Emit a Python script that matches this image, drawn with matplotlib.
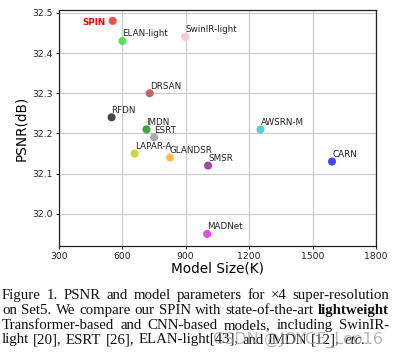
import matplotlib.pyplot as plt

models = ["SPIN", "ELAN-light", "SwinIR-light", "DRSAN", "RFDN", "IMDN", "ESRT",
          "LAPAR-A", "GLANDSR", "SMSR", "MADNet", "AWSRN-M", "CARN"]
params = [555, 601, 897, 730, 550, 715, 751, 659, 826, 1006, 1002, 1254, 1592]
psnr = [32.48, 32.43, 32.44, 32.30, 32.24, 32.21, 32.19, 32.15, 32.14, 32.12, 31.95, 32.21, 32.13]
colors = ["#ff4a4a", "#55e655", "#ffc8d2", "#c06464", "#484848", "#3caa3c", "#aaaaaa",
          "#d4d43c", "#ffbb50", "#a846a8", "#dc50dc", "#50d2d2", "#4646fa"]

xticks = [300, 600, 900, 1200, 1500, 1800]
yticks = [32.0, 32.1, 32.2, 32.3, 32.4, 32.5]

caption = [
    [("Figure", "n"), ("1.", "n"), ("PSNR", "n"), ("and", "n"), ("model", "n"), ("parameters", "n"),
     ("for", "n"), ("\u00d74", "n"), ("super-resolution", "n")],
    [("on", "n"), ("Set5.", "n"), ("We", "n"), ("compare", "n"), ("our", "n"), ("SPIN", "n"),
     ("with", "n"), ("state-of-the-art", "n"), ("lightweight", "b")],
    [("Transformer-based", "n"), ("and", "n"), ("CNN-based", "n"), ("models,", "n"),
     ("including", "n"), ("SwinIR-", "n")],
    [("light", "n"), ("[20],", "n"), ("ESRT", "n"), ("[26],", "n"), ("ELAN-light[43],", "n"),
     ("and", "n"), ("IMDN", "n"), ("[12],", "n"), ("etc.", "i")],
]

W, H = 399, 358
fig = plt.figure(figsize=(W / 100, H / 100), dpi=100)
ax = fig.add_axes([58.7 / W, 1 - 246 / H, (376 - 58.7) / W, (246 - 10) / H])

ax.scatter(params, psnr, c=colors, s=34, edgecolors="none", zorder=3)
for name, x, y in zip(models, params, psnr):
    if name == "SPIN":
        ax.annotate(name, (x, y), xytext=(-5, -1), textcoords="offset points",
                    ha="right", va="center", fontsize=6.3, color="red", fontweight="bold")
    else:
        ax.annotate(name, (x, y), xytext=(0, 3.3), textcoords="offset points",
                    ha="left", va="baseline", fontsize=6.3, color="#222222")

ax.set_xlim(300, 1800)
ax.set_ylim(31.92, 32.507)
ax.set_xticks(xticks)
ax.set_yticks(yticks)
ax.tick_params(labelsize=6.7, length=2.5, width=0.8, pad=2, colors="#222222")
ax.grid(True, color="#cccccc", linewidth=0.9)
ax.set_axisbelow(True)
for s in ax.spines.values():
    s.set_color("#222222")
    s.set_linewidth(0.9)
ax.set_xlabel("Model Size(K)", fontsize=9.8, labelpad=0)
ax.set_ylabel("PSNR(dB)", fontsize=9.8, labelpad=3)

# justified caption in serif
renderer = fig.canvas.get_renderer()
x0, x1 = 2, 389
baselines = [299.3, 314.3, 329.0, 343.5]
styles = {"n": {}, "b": {"fontweight": "bold"}, "i": {"fontstyle": "italic"}}
serif = "Liberation Serif"


def word_widths(words, size):
    out = []
    for w, st in words:
        t = fig.text(0, 0, w, fontsize=size, family=serif, **styles[st])
        out.append(t.get_window_extent(renderer).width)
        t.remove()
    return out


# pick the size so line 2 fills the width with ordinary spaces
ref_size = 10.0
w2 = word_widths(caption[1], ref_size)
space_em = 0.27
em_px = ref_size * 100 / 72
cap_size = ref_size * (x1 - x0) / (sum(w2) + (len(w2) - 1) * space_em * em_px)
space_px = space_em * cap_size * 100 / 72

for li, (words, yb) in enumerate(zip(caption, baselines)):
    widths = word_widths(words, cap_size)
    if li < len(caption) - 1:
        gap = (x1 - x0 - sum(widths)) / (len(words) - 1)
    else:
        gap = space_px
    xpos = x0
    for (w, st), wd in zip(words, widths):
        fig.text(xpos / W, 1 - yb / H, w, fontsize=cap_size, family=serif,
                 va="baseline", ha="left", color="#111111", **styles[st])
        xpos += wd + gap

fig.text(213 / W, 1 - 344 / H, "CSDN @JOYCE_Leo16", fontsize=11.5, color="#999999",
         alpha=0.7, va="baseline", ha="left")

fig.savefig("out.png", dpi=100)
